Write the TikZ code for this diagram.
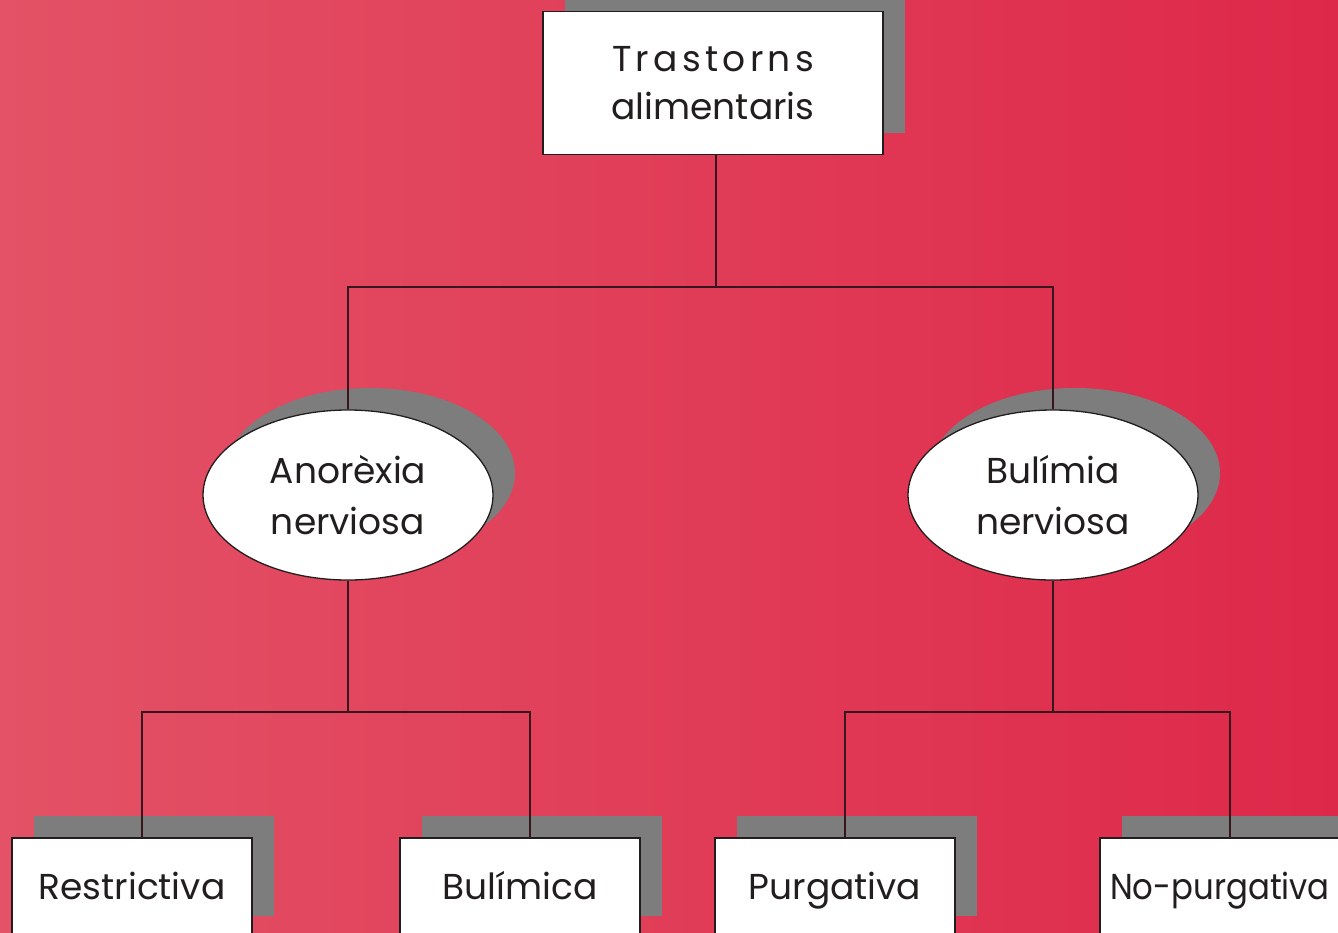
\documentclass[tikz,border=0pt]{standalone}
\usepackage{fontspec}
\setmainfont{Poppins}
\usetikzlibrary{shapes.geometric,shadows}
\definecolor{bgL}{RGB}{227,82,102}
\definecolor{bgR}{RGB}{222,40,74}
\definecolor{shadegray}{RGB}{125,125,125}
\definecolor{ink}{RGB}{35,30,30}
\definecolor{wirecol}{RGB}{55,22,30}
\newcommand{\leaftext}[1]{\raisebox{4pt}{\vphantom{Ág}#1}}
\begin{document}
\begin{tikzpicture}[x=1pt,y=-1pt,
  sh/.style={drop shadow={shadow xshift=22pt,shadow yshift=22pt,fill=shadegray,opacity=1}},
  txt/.style={font=\fontsize{36}{48}\selectfont,text=ink,align=center},
  box/.style={rectangle,draw=ink,line width=1.3pt,fill=white,inner sep=0pt,sh,txt},
  leafbox/.style={box,minimum width=240pt,minimum height=100pt},
  oval/.style={ellipse,draw=ink,line width=1.3pt,fill=white,inner sep=0pt,sh,txt,font=\fontsize{36}{51}\selectfont},
  wire/.style={draw=wirecol,line width=2pt}]
\useasboundingbox (0,0) rectangle (1338,932);
\clip (0,0) rectangle (1338,932);
\shade[left color=bgL,right color=bgR] (0,0) rectangle (1338,932);

\node[box,minimum width=340pt,minimum height=143pt] (top) at (713,83)
  {{\addfontfeature{LetterSpace=12}Trastorns}\\alimentaris};
\node[oval,minimum width=290pt,minimum height=170pt] (anor) at (348,495) {Anorèxia\\nerviosa};
\node[oval,minimum width=290pt,minimum height=170pt] (buli) at (1053,495) {Bulímia\\nerviosa};

\node[leafbox] (r) at (132,888) {\leaftext{Restrictiva}};
\node[leafbox] (b) at (520,888) {\leaftext{Bulímica}};
\node[leafbox] (p) at (835,888) {\leaftext{Purgativa}};
\node[leafbox] (n) at (1220,888) {\leaftext{\scalebox{0.9}[1]{No-purgativa}}};

\coordinate (j1) at (716,287);
\coordinate (j2) at (348,712);
\coordinate (j3) at (1053,712);

\draw[wire] (top.south -| j1) -- (j1);
\draw[wire] (anor.north) |- (j1) -| (buli.north);
\draw[wire] (anor.south) -- (j2);
\draw[wire] ([xshift=10pt]r.north) |- (j2) -| ([xshift=10pt]b.north);
\draw[wire] (buli.south) -- (j3);
\draw[wire] ([xshift=10pt]p.north) |- (j3) -| ([xshift=10pt]n.north);
\end{tikzpicture}
\end{document}
